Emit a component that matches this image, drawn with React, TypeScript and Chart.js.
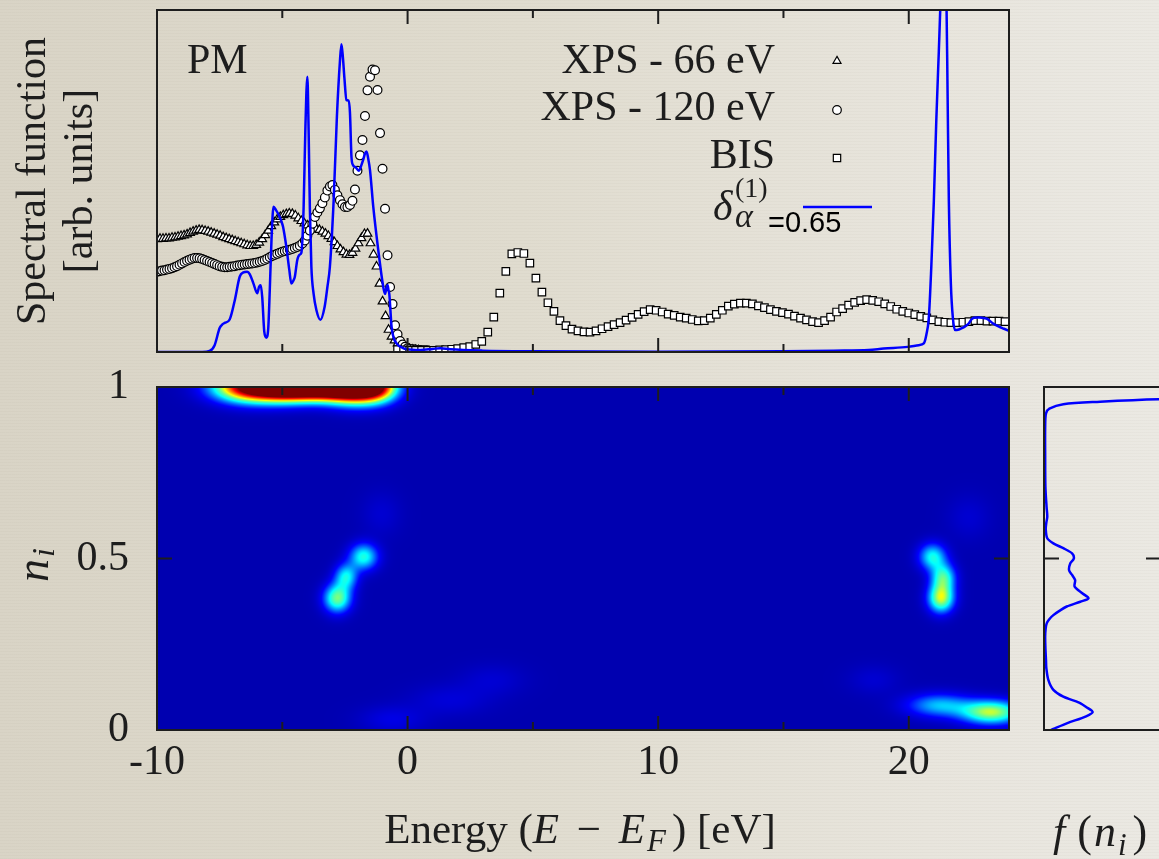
import React, { useEffect, useRef } from 'react';
import { Chart, registerables } from 'chart.js';

Chart.register(...registerables);

const SERIF = '"Liberation Serif", "Times New Roman", Times, serif';
const SANS = '"Liberation Sans", Arial, Helvetica, sans-serif';
const INK = '#1d1d1d';
const LINE_BLUE = '#0000ff';

// ---------------- top panel: spectral function ----------------
const energyMin = -10;
const energyMax = 24;
const energyTicks = [-10, -5, 0, 5, 10, 15, 20];

// XPS 66 eV (triangles), regular energy grid
const xps66Start = -10;
const xps66Step = 0.12;
const xps66Values = [
  0.330, 0.331, 0.331, 0.332, 0.332, 0.334, 0.335, 0.337, 0.339, 0.341,
  0.344, 0.348, 0.352, 0.355, 0.357, 0.356, 0.354, 0.352, 0.349, 0.346,
  0.343, 0.340, 0.336, 0.333, 0.330, 0.327, 0.324, 0.321, 0.318, 0.315,
  0.312, 0.310, 0.310, 0.313, 0.320, 0.330, 0.342, 0.355, 0.368, 0.379,
  0.388, 0.395, 0.400, 0.403, 0.405, 0.404, 0.399, 0.391, 0.383, 0.376,
  0.370, 0.366, 0.363, 0.360, 0.357, 0.352, 0.346, 0.339, 0.331, 0.321,
  0.310, 0.300, 0.292, 0.285, 0.284, 0.290, 0.302, 0.318, 0.333, 0.345,
  0.346, 0.318, 0.285, 0.250, 0.200, 0.148, 0.105, 0.065, 0.045, 0.034,
  0.025, 0.019, 0.014, 0.011, 0.009, 0.007, 0.006, 0.005,
];

// XPS 120 eV (circles)
const xps120Start = -10;
const xps120Step = 0.1;
const xps120Values = [
  0.235, 0.236, 0.238, 0.239, 0.241, 0.243, 0.245, 0.248, 0.251, 0.255,
  0.259, 0.263, 0.267, 0.270, 0.273, 0.275, 0.275, 0.274, 0.272, 0.269,
  0.266, 0.263, 0.260, 0.257, 0.254, 0.251, 0.249, 0.248, 0.248, 0.249,
  0.250, 0.251, 0.253, 0.254, 0.255, 0.256, 0.257, 0.258, 0.259, 0.260,
  0.262, 0.264, 0.266, 0.269, 0.273, 0.277, 0.281, 0.284, 0.287, 0.290,
  0.293, 0.295, 0.297, 0.299, 0.301, 0.304, 0.307, 0.311, 0.317, 0.326,
  0.340, 0.355, 0.375, 0.395, 0.408, 0.420, 0.435, 0.452, 0.472, 0.484,
  0.488, 0.474, 0.458, 0.444, 0.432, 0.424, 0.424, 0.430, 0.442, 0.475,
  0.530, 0.575, 0.620, 0.690, 0.765, 0.805, 0.826, 0.824, 0.766, 0.640,
  0.536, 0.419, 0.283, 0.190, 0.140, 0.078, 0.052, 0.032, 0.022, 0.015,
  0.011, 0.009, 0.008, 0.007, 0.006, 0.006, 0.005, 0.005, 0.005,
];

// BIS (squares)
const bisStart = -0.4;
const bisStep = 0.24;
const bisValues = [
  0.007, 0.006, 0.005, 0.005, 0.005, 0.005, 0.005, 0.006, 0.007, 0.008,
  0.010, 0.013, 0.016, 0.022, 0.031, 0.058, 0.102, 0.172, 0.236, 0.287,
  0.291, 0.288, 0.260, 0.216, 0.175, 0.144, 0.119, 0.092, 0.077, 0.067,
  0.062, 0.059, 0.058, 0.062, 0.068, 0.074, 0.080, 0.086, 0.093, 0.101,
  0.110, 0.118, 0.124, 0.122, 0.117, 0.111, 0.107, 0.102, 0.099, 0.095,
  0.091, 0.092, 0.099, 0.110, 0.122, 0.134, 0.140, 0.143, 0.143, 0.141,
  0.135, 0.130, 0.124, 0.119, 0.115, 0.111, 0.105, 0.099, 0.094, 0.089,
  0.086, 0.092, 0.102, 0.117, 0.127, 0.137, 0.145, 0.150, 0.153, 0.151,
  0.147, 0.141, 0.133, 0.125, 0.119, 0.114, 0.109, 0.104, 0.100, 0.094,
  0.089, 0.087, 0.086, 0.086, 0.087, 0.089, 0.092, 0.092, 0.090, 0.090,
  0.090, 0.089,
];

// theory curve delta_alpha^(1) = 0.65
const theoryEnergy = [
  -10, -8.2, -7.9, -7.7, -7.5, -7.4, -7.3, -7.1, -6.9, -6.7,
  -6.55, -6.4, -6.3, -6.15, -6.0, -5.93, -5.86, -5.8, -5.72, -5.64,
  -5.56, -5.5, -5.43, -5.35, -5.25, -5.17, -5.05, -4.97, -4.84, -4.72,
  -4.64, -4.55, -4.5, -4.4, -4.3, -4.24, -4.15, -4.08, -4.0, -3.95,
  -3.9, -3.84, -3.75, -3.64, -3.48, -3.31, -3.2, -3.1, -2.95, -2.82,
  -2.7, -2.64, -2.58, -2.52, -2.44, -2.36, -2.3, -2.24, -2.18, -2.07,
  -1.95, -1.85, -1.78, -1.7, -1.64, -1.57, -1.5, -1.37, -1.17, -0.97,
  -0.9, -0.85, -0.8, -0.76, -0.73, -0.64, -0.55, -0.44, -0.2, -0.03,
  0.5, 1.0, 1.3, 1.7, 3, 5, 10, 15, 17, 18.4,
  19.0, 19.96, 20.4, 20.6, 20.7, 20.8, 20.9, 21.0, 21.1, 21.2,
  21.3, 21.4, 21.5, 21.55, 21.6, 21.68, 21.76, 21.85, 22.0, 22.1,
  22.25, 22.4, 22.5, 22.6, 22.8, 23.0, 23.1, 23.35, 23.6, 23.8,
  24,
];
const theoryValues = [
  0, 0, 0.003, 0.02, 0.07, 0.08, 0.085, 0.095, 0.15, 0.22,
  0.233, 0.235, 0.228, 0.2, 0.172, 0.19, 0.195, 0.16, 0.06, 0.042,
  0.07, 0.18, 0.33, 0.425, 0.415, 0.405, 0.385, 0.366, 0.308, 0.24,
  0.2, 0.21, 0.22, 0.27, 0.285, 0.29, 0.42, 0.65, 0.805, 0.65,
  0.42, 0.25, 0.17, 0.123, 0.094, 0.132, 0.19, 0.25, 0.444, 0.69,
  0.85, 0.9, 0.86, 0.8, 0.737, 0.735, 0.7, 0.571, 0.547, 0.54,
  0.53, 0.545, 0.56, 0.58, 0.586, 0.565, 0.532, 0.425, 0.298, 0.19,
  0.17, 0.185, 0.196, 0.18, 0.17, 0.074, 0.04, 0.025, 0.012, 0.008,
  0.006, 0.009, 0.011, 0.008, 0.004, 0.002, 0.001, 0.002, 0.004, 0.006,
  0.01, 0.015, 0.02, 0.025, 0.05, 0.1, 0.25, 0.44, 0.68, 0.88,
  1.08, 1.15, 1.05, 0.75, 0.44, 0.2, 0.1, 0.064, 0.066, 0.069,
  0.075, 0.084, 0.095, 0.1, 0.101, 0.099, 0.098, 0.084, 0.074, 0.068,
  0.062,
];

const panelTag = 'PM';
const legendLabels = ['XPS - 66 eV', 'XPS - 120 eV', 'BIS'];
const theoryLabelValue = '=0.65';

// ---------------- bottom panel: occupancy-resolved map ----------------
const occupancyTicks = [0, 0.5, 1];
const energyLabelTicks = [-10, 0, 10, 20];
// density islands (centre energy, centre n_i, widths, strength)
const blobEnergy = [-6.3, -4.8, -3.4, -2.1, -1.2, -2.8, -2.45, -1.75, -1.05, 21.29, 21.38, 20.95, 22.4, 23.3, 21.2, 18.6, -0.6, 1.7, 3.4];
const blobOccupancy = [1.0, 1.0, 1.0, 1.0, 1.0, 0.384, 0.447, 0.505, 0.63, 0.384, 0.445, 0.505, 0.62, 0.052, 0.072, 0.146, 0.03, 0.087, 0.146];
const blobWidthE = [1.0, 0.9, 0.9, 0.8, 0.6, 0.38, 0.32, 0.4, 0.55, 0.36, 0.34, 0.38, 0.6, 0.85, 0.9, 0.7, 0.9, 1.1, 0.9];
const blobWidthN = [0.03, 0.028, 0.026, 0.032, 0.03, 0.029, 0.026, 0.027, 0.045, 0.029, 0.028, 0.027, 0.045, 0.024, 0.024, 0.03, 0.028, 0.032, 0.032];
const blobAmplitude = [1.0, 1.1, 1.1, 1.2, 0.6, 0.5, 0.36, 0.4, 0.05, 0.57, 0.42, 0.38, 0.05, 0.56, 0.3, 0.05, 0.08, 0.06, 0.05];

// ---------------- right panel: distribution f(n_i) ----------------
const distOccupancy = [
  0.0, 0.003, 0.02, 0.04, 0.052, 0.065, 0.08, 0.097, 0.117, 0.146,
  0.18, 0.204, 0.24, 0.272, 0.295, 0.311, 0.323, 0.335, 0.348, 0.36,
  0.374, 0.384, 0.398, 0.418, 0.437, 0.452, 0.466, 0.486, 0.5, 0.515,
  0.53, 0.544, 0.559, 0.585, 0.605, 0.622, 0.65, 0.709, 0.8, 0.883,
  0.923, 0.937, 0.95, 0.957, 0.964, 0.975, 0.99, 1.0,
];
const distValues = [
  0.06, 0.08, 0.2, 0.36, 0.416, 0.37, 0.3, 0.165, 0.08, 0.037,
  0.02, 0.017, 0.012, 0.01, 0.014, 0.023, 0.045, 0.08, 0.135, 0.194,
  0.31, 0.38, 0.33, 0.262, 0.266, 0.24, 0.214, 0.225, 0.255, 0.24,
  0.165, 0.08, 0.028, 0.015, 0.02, 0.028, 0.022, 0.012, 0.01, 0.01,
  0.017, 0.046, 0.165, 0.48, 0.98, 2.5, 2.0, 1.4,
];

// jet-like colour map of the density plot
const heatStops: number[][] = [
  [0, 0, 0, 176],
  [0.12, 0, 0, 255],
  [0.37, 0, 255, 255],
  [0.5, 110, 255, 140],
  [0.62, 255, 255, 0],
  [0.87, 255, 0, 0],
  [1, 128, 0, 0],
];

function heatColor(t: number): number[] {
  const v = Math.max(0, Math.min(1, t));
  for (let i = 1; i < heatStops.length; i++) {
    const a = heatStops[i - 1];
    const b = heatStops[i];
    if (v <= b[0]) {
      const f = (v - a[0]) / (b[0] - a[0]);
      return [a[1] + (b[1] - a[1]) * f, a[2] + (b[2] - a[2]) * f, a[3] + (b[3] - a[3]) * f];
    }
  }
  const l = heatStops[heatStops.length - 1];
  return [l[1], l[2], l[3]];
}

function serif(size: number, italic = false) {
  return `${italic ? 'italic ' : ''}${size}px ${SERIF}`;
}

type Run = { text: string; font: string; dx?: number; dy?: number };

function drawRuns(ctx: CanvasRenderingContext2D, runs: Run[], x: number, y: number, align: 'left' | 'center') {
  const widths = runs.map((r) => {
    ctx.font = r.font;
    return ctx.measureText(r.text).width + (r.dx || 0);
  });
  const total = widths.reduce((s, w) => s + w, 0);
  let cx = align === 'center' ? x - total / 2 : x;
  runs.forEach((r, i) => {
    ctx.font = r.font;
    ctx.fillText(r.text, cx + (r.dx || 0), y + (r.dy || 0));
    cx += widths[i];
  });
}

function drawMarker(ctx: CanvasRenderingContext2D, style: string, x: number, y: number, r: number) {
  ctx.beginPath();
  if (style === 'circle') {
    ctx.arc(x, y, r, 0, Math.PI * 2);
  } else if (style === 'triangle') {
    ctx.moveTo(x, y - r);
    ctx.lineTo(x + r * 0.866, y + r * 0.5);
    ctx.lineTo(x - r * 0.866, y + r * 0.5);
    ctx.closePath();
  } else {
    const s = r * Math.SQRT1_2;
    ctx.rect(x - s, y - s, 2 * s, 2 * s);
  }
  ctx.fillStyle = '#ffffff';
  ctx.fill();
  ctx.strokeStyle = '#000000';
  ctx.lineWidth = 1.2;
  ctx.stroke();
}

function drawFrame(chart: any, xTickValues: number[], yTickValues: number[]) {
  const { ctx, chartArea: a, scales } = chart;
  ctx.save();
  ctx.strokeStyle = INK;
  ctx.lineWidth = 2;
  ctx.beginPath();
  for (const v of xTickValues) {
    const px = scales.x.getPixelForValue(v);
    const len = v % 10 === 0 ? 14 : 8;
    ctx.moveTo(px, a.bottom);
    ctx.lineTo(px, a.bottom - len);
    ctx.moveTo(px, a.top);
    ctx.lineTo(px, a.top + len);
  }
  for (const v of yTickValues) {
    const py = scales.y.getPixelForValue(v);
    ctx.moveTo(a.left, py);
    ctx.lineTo(a.left + 15, py);
    ctx.moveTo(a.right, py);
    ctx.lineTo(a.right - 15, py);
  }
  ctx.stroke();
  ctx.strokeRect(a.left, a.top, a.right - a.left, a.bottom - a.top);
  ctx.restore();
}

const noScalePadding = (s: any) => {
  s.paddingLeft = 0;
  s.paddingRight = 0;
  s.paddingTop = 0;
  s.paddingBottom = 0;
};

const pointsFromGrid = (start: number, step: number, values: number[]) =>
  values.map((v, i) => ({ x: +(start + i * step).toFixed(3), y: v }));

export default function App() {
  const topRef = useRef<HTMLCanvasElement | null>(null);
  const mapRef = useRef<HTMLCanvasElement | null>(null);
  const distRef = useRef<HTMLCanvasElement | null>(null);

  useEffect(() => {
    const charts: Chart[] = [];

    // ---- top chart ----
    const topDecor = {
      id: 'topDecor',
      afterDraw(chart: any) {
        drawFrame(chart, energyTicks, []);
        const ctx: CanvasRenderingContext2D = chart.ctx;
        ctx.save();
        ctx.fillStyle = INK;
        ctx.textBaseline = 'alphabetic';
        ctx.font = serif(42);
        ctx.textAlign = 'left';
        ctx.fillText(panelTag, 187, 73);
        ctx.textAlign = 'right';
        const baselines = [73, 120, 168];
        const markerY = [61, 110, 158];
        const styles = ['triangle', 'circle', 'rect'];
        const radii = [4.6, 4.3, 5.2];
        legendLabels.forEach((lab, i) => {
          ctx.fillStyle = INK;
          ctx.font = serif(42);
          ctx.fillText(lab, 775, baselines[i]);
          drawMarker(ctx, styles[i], 837, markerY[i], radii[i]);
        });
        ctx.fillStyle = INK;
        ctx.textAlign = 'left';
        ctx.font = serif(42, true);
        ctx.fillText('δ', 713, 220);
        ctx.font = serif(34, true);
        ctx.fillText('α', 735, 227);
        ctx.font = serif(28);
        ctx.fillText('(1)', 735, 197);
        ctx.fillStyle = '#000000';
        ctx.font = `29px ${SANS}`;
        ctx.fillText(theoryLabelValue, 768, 232);
        ctx.strokeStyle = LINE_BLUE;
        ctx.lineWidth = 2.5;
        ctx.beginPath();
        ctx.moveTo(803, 207);
        ctx.lineTo(872, 207);
        ctx.stroke();
        ctx.restore();
      },
    };

    const markerCommon = {
      backgroundColor: '#ffffff',
      borderColor: '#000000',
      pointBackgroundColor: '#ffffff',
      pointBorderColor: '#000000',
      pointBorderWidth: 1.2,
      showLine: false,
    };

    if (topRef.current) {
      charts.push(
        new Chart(topRef.current, {
          type: 'scatter',
          data: {
            datasets: [
              {
                label: 'theory',
                data: theoryEnergy.map((e, i) => ({ x: e, y: theoryValues[i] })),
                showLine: true,
                borderColor: LINE_BLUE,
                backgroundColor: LINE_BLUE,
                borderWidth: 2.5,
                pointRadius: 0,
                cubicInterpolationMode: 'monotone',
                order: 0,
              } as any,
              {
                label: legendLabels[2],
                data: pointsFromGrid(bisStart, bisStep, bisValues),
                pointStyle: 'rect',
                pointRadius: 5.3,
                ...markerCommon,
                order: 1,
              } as any,
              {
                label: legendLabels[1],
                data: pointsFromGrid(xps120Start, xps120Step, xps120Values),
                pointStyle: 'circle',
                pointRadius: 4.4,
                ...markerCommon,
                order: 2,
              } as any,
              {
                label: legendLabels[0],
                data: pointsFromGrid(xps66Start, xps66Step, xps66Values),
                pointStyle: 'triangle',
                pointRadius: 5,
                ...markerCommon,
                order: 3,
              } as any,
            ],
          },
          options: {
            animation: false,
            responsive: false,
            events: [],
            layout: { padding: { left: 0, top: 10, right: 150, bottom: 8 } },
            plugins: { legend: { display: false }, tooltip: { enabled: false } },
            scales: {
              x: { type: 'linear', min: energyMin, max: energyMax, display: false },
              y: {
                type: 'linear',
                min: 0,
                max: 1,
                grid: { display: false },
                border: { display: false },
                ticks: { display: false },
                title: {
                  display: true,
                  text: ['Spectral function', '[arb. units]'],
                  color: INK,
                  font: { family: SERIF, size: 42, lineHeight: 1.12 },
                  padding: { top: 10, bottom: 0 },
                },
                afterFit: (s: any) => {
                  s.width = 157;
                  noScalePadding(s);
                },
              },
            },
          } as any,
          plugins: [topDecor],
        })
      );
    }

    // ---- density map ----
    const heatmap = {
      id: 'heatmap',
      beforeDatasetsDraw(chart: any) {
        const { ctx, chartArea: a, scales } = chart;
        const left = Math.round(a.left);
        const top = Math.round(a.top);
        const w = Math.round(a.right) - left;
        const h = Math.round(a.bottom) - top;
        const img = ctx.createImageData(w, h);
        const nb = blobEnergy.length;
        for (let j = 0; j < h; j++) {
          const n = scales.y.getValueForPixel(top + j + 0.5);
          for (let i = 0; i < w; i++) {
            const e = scales.x.getValueForPixel(left + i + 0.5);
            let t = 0;
            for (let k = 0; k < nb; k++) {
              const de = (e - blobEnergy[k]) / blobWidthE[k];
              const dn = (n - blobOccupancy[k]) / blobWidthN[k];
              const q = 0.5 * (de * de + dn * dn);
              if (q < 14) t += blobAmplitude[k] * Math.exp(-q);
            }
            const c = heatColor(t);
            const p = (j * w + i) * 4;
            img.data[p] = c[0];
            img.data[p + 1] = c[1];
            img.data[p + 2] = c[2];
            img.data[p + 3] = 255;
          }
        }
        ctx.putImageData(img, left, top);
      },
      afterDraw(chart: any) {
        drawFrame(chart, energyTicks, [0.5]);
        const ctx: CanvasRenderingContext2D = chart.ctx;
        ctx.save();
        ctx.fillStyle = INK;
        ctx.textBaseline = 'alphabetic';
        ctx.textAlign = 'left';
        drawRuns(
          ctx,
          [
            { text: 'Energy (', font: serif(43) },
            { text: 'E', font: serif(43, true) },
            { text: ' − ', font: serif(43), dx: 7 },
            { text: 'E', font: serif(43, true), dx: 7 },
            { text: 'F', font: serif(31, true), dy: 8, dx: 2 },
            { text: ') [eV]', font: serif(43), dx: 6 },
          ],
          580,
          483,
          'center'
        );
        ctx.translate(48, 205);
        ctx.rotate(-Math.PI / 2);
        drawRuns(
          ctx,
          [
            { text: 'n', font: serif(46, true) },
            { text: 'i', font: serif(32, true), dy: 6, dx: 2 },
          ],
          0,
          0,
          'center'
        );
        ctx.restore();
      },
    };

    if (mapRef.current) {
      charts.push(
        new Chart(mapRef.current, {
          type: 'scatter',
          data: { datasets: [] },
          options: {
            animation: false,
            responsive: false,
            events: [],
            layout: { padding: { left: 0, top: 27, right: 150, bottom: 0 } },
            plugins: { legend: { display: false }, tooltip: { enabled: false } },
            scales: {
              x: {
                type: 'linear',
                min: energyMin,
                max: energyMax,
                grid: { display: false, drawTicks: false },
                border: { display: false },
                ticks: {
                  stepSize: 10,
                  includeBounds: false,
                  padding: 8,
                  maxRotation: 0,
                  color: INK,
                  font: { family: SERIF, size: 42 },
                  callback: (v: any) => (energyLabelTicks.includes(Number(v)) ? String(v) : ''),
                },
                afterFit: (s: any) => {
                  s.height = 129;
                  noScalePadding(s);
                },
              },
              y: {
                type: 'linear',
                min: 0,
                max: 1,
                grid: { display: false, drawTicks: false },
                border: { display: false },
                ticks: {
                  stepSize: 0.5,
                  padding: 28,
                  color: INK,
                  font: { family: SERIF, size: 42 },
                  callback: (v: any) => (occupancyTicks.includes(Number(v)) ? String(v) : ''),
                },
                afterFit: (s: any) => {
                  s.width = 157;
                  noScalePadding(s);
                },
              },
            },
          } as any,
          plugins: [heatmap],
        })
      );
    }

    // ---- distribution f(n_i) ----
    const distDecor = {
      id: 'distDecor',
      afterDraw(chart: any) {
        drawFrame(chart, [], [0.5]);
        const ctx: CanvasRenderingContext2D = chart.ctx;
        ctx.save();
        ctx.fillStyle = INK;
        ctx.textBaseline = 'alphabetic';
        ctx.textAlign = 'left';
        drawRuns(
          ctx,
          [
            { text: 'f', font: serif(44, true) },
            { text: '(', font: serif(44), dx: 12 },
            { text: 'n', font: serif(44, true), dx: 2 },
            { text: 'i', font: serif(31, true), dy: 9, dx: 2 },
            { text: ')', font: serif(44), dx: 6 },
          ],
          33,
          486,
          'left'
        );
        ctx.restore();
      },
    };

    if (distRef.current) {
      charts.push(
        new Chart(distRef.current, {
          type: 'scatter',
          data: {
            datasets: [
              {
                label: 'f(n_i)',
                data: distOccupancy.map((n, i) => ({ x: distValues[i], y: n })),
                showLine: true,
                borderColor: LINE_BLUE,
                backgroundColor: LINE_BLUE,
                borderWidth: 2.5,
                pointRadius: 0,
                tension: 0.3,
              } as any,
            ],
          },
          options: {
            animation: false,
            responsive: false,
            events: [],
            layout: { padding: { left: 24, top: 27, right: 59, bottom: 129 } },
            plugins: { legend: { display: false }, tooltip: { enabled: false } },
            scales: {
              x: { type: 'linear', min: 0, max: 1, display: false },
              y: { type: 'linear', min: 0, max: 1, display: false },
            },
          } as any,
          plugins: [distDecor],
        })
      );
    }

    return () => {
      charts.forEach((c) => c.destroy());
    };
  }, []);

  return (
    <div
      style={{
        position: 'fixed',
        left: 0,
        top: 0,
        width: 1159,
        height: 859,
        overflow: 'hidden',
        background:
          'repeating-linear-gradient(0deg, rgba(120,110,90,0.035) 0px, rgba(120,110,90,0.035) 1px, rgba(0,0,0,0) 1px, rgba(0,0,0,0) 3px), linear-gradient(90deg, #d9d4c6 0%, #e0dccf 45%, #e8e5dd 80%, #ebe9e3 100%)',
      }}
    >
      <canvas ref={topRef} width={1159} height={360} style={{ position: 'absolute', left: 0, top: 0 }} />
      <canvas ref={mapRef} width={1159} height={499} style={{ position: 'absolute', left: 0, top: 360 }} />
      <canvas ref={distRef} width={200} height={499} style={{ position: 'absolute', left: 1020, top: 360 }} />
    </div>
  );
}
